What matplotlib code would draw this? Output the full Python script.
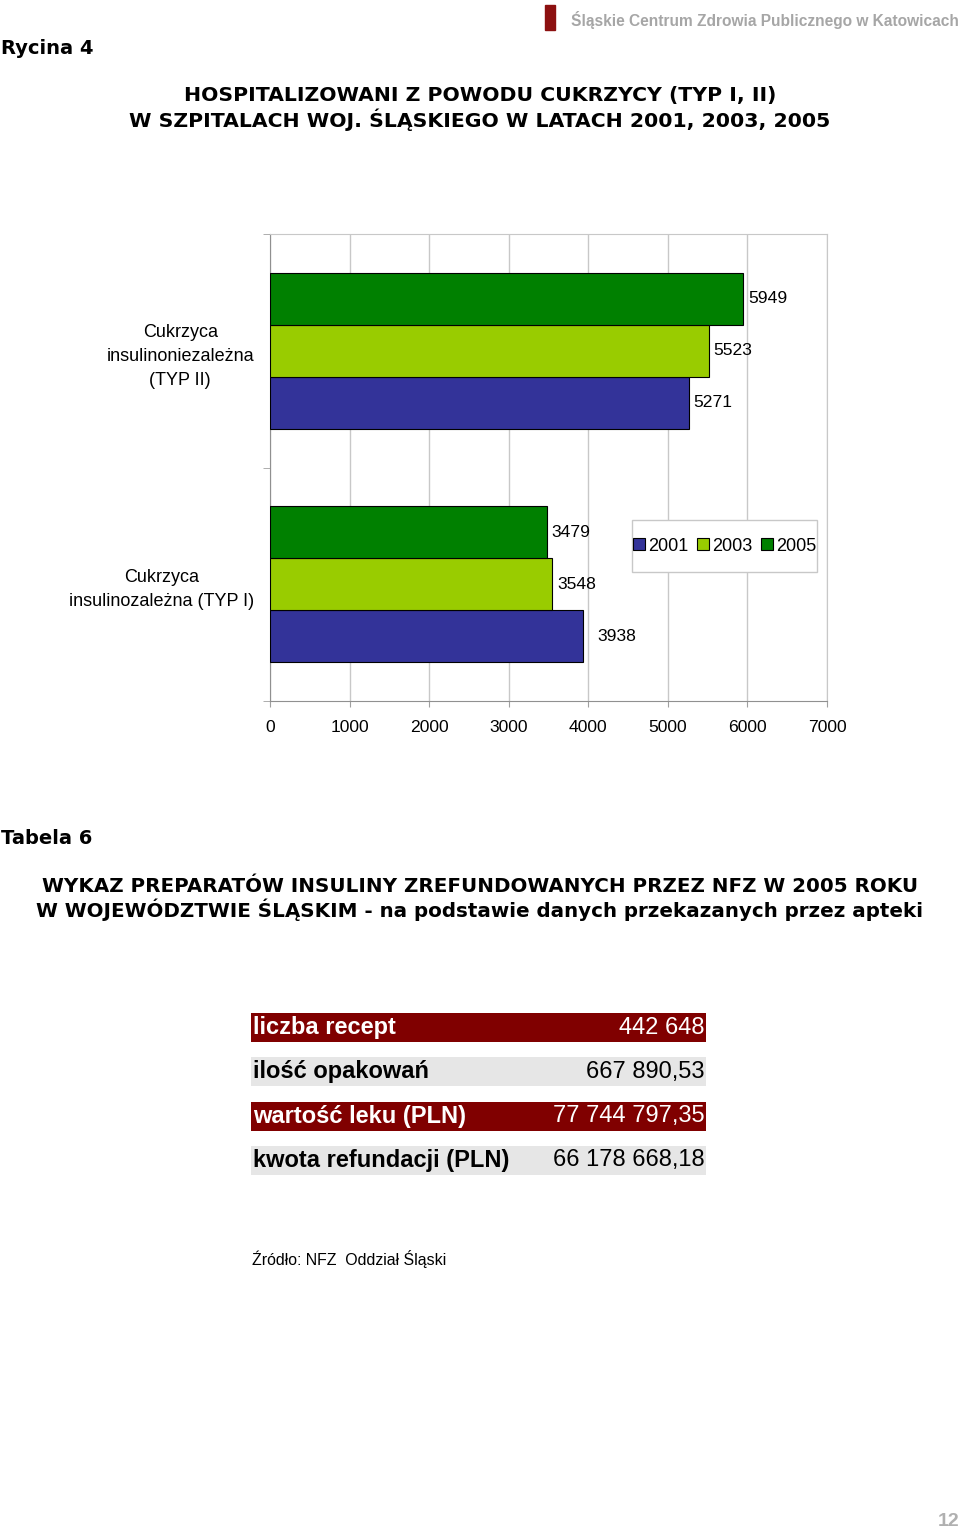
import matplotlib.pyplot as plt
from matplotlib.patches import Rectangle
import numpy as np

# chart data
categories = ["Cukrzyca\ninsulinoniezależna\n(TYP II)", "Cukrzyca\ninsulinozależna (TYP I)"]
years = ["2001", "2003", "2005"]
v2001 = [5271, 3938]
v2003 = [5523, 3548]
v2005 = [5949, 3479]
xticks = [0, 1000, 2000, 3000, 4000, 5000, 6000, 7000]

# table data
table_labels = ["liczba recept", "ilość opakowań", "wartość leku (PLN)", "kwota refundacji (PLN)"]
table_values = ["442 648", "667 890,53", "77 744 797,35", "66 178 668,18"]

W, H = 960, 1531
def fx(x):
    return x / W
def fy(y):
    return 1 - y / H

fig = plt.figure(figsize=(W / 100, H / 100), dpi=100)
fig.patch.set_facecolor("white")

sans = "Liberation Sans"
head = "DejaVu Sans"

# page header
fig.patches.append(Rectangle((fx(545), fy(30)), 10 / W, 25 / H, transform=fig.transFigure,
                             color="#8c1010"))
fig.text(fx(959), fy(20), "Śląskie Centrum Zdrowia Publicznego w Katowicach", ha="right", va="center",
         fontsize=11.2, fontweight="bold", color="#a6a6a6", family=sans)
fig.text(fx(1), fy(48), "Rycina 4", ha="left", va="center", fontsize=14, fontweight="bold", family=head)
fig.text(fx(480), fy(96), "HOSPITALIZOWANI Z POWODU CUKRZYCY (TYP I, II)", ha="center", va="center",
         fontsize=14.7, fontweight="bold", family=head)
fig.text(fx(480), fy(120), "W SZPITALACH WOJ. ŚLĄSKIEGO W LATACH 2001, 2003, 2005", ha="center", va="center",
         fontsize=14.7, fontweight="bold", family=head)

# bar chart
ax = fig.add_axes([fx(270), fy(701), (827 - 270) / W, (701 - 234) / H])
y = np.arange(len(categories))
h = 0.223
series = [(v2001, "2001", "#333399", h, [4, 14]),
          (v2003, "2003", "#99cc00", 0, [4, 5]),
          (v2005, "2005", "#008000", -h, [5, 5])]
handles = []
for vals, name, col, off, pads in series:
    b = ax.barh(y + off, vals, height=h, color=col, edgecolor="black", linewidth=0.8, label=name, zorder=3)
    handles.append(b)
    for rect, v, p in zip(b, vals, pads):
        ax.annotate(str(v), (rect.get_width(), rect.get_y() + rect.get_height() / 2),
                    xytext=(p * 0.72, 0), textcoords="offset points", ha="left", va="center",
                    fontsize=12.6, family=sans)

ax.set_xlim(0, 7000)
ax.set_ylim(1.5, -0.5)
ax.set_xticks(xticks)
ax.set_xticklabels([str(t) for t in xticks], fontsize=12.6, family=sans)
ax.set_yticks(y)
ax.set_yticklabels(categories, fontsize=13, family=sans, linespacing=1.55)
for lbl in ax.get_yticklabels():
    lbl.set_multialignment("center")
ax.set_yticks([-0.5, 0.5, 1.5], minor=True)
ax.tick_params(axis="y", which="major", length=0, pad=11.5)
ax.tick_params(axis="y", which="minor", length=5, color="#a0a0a0")
ax.tick_params(axis="x", length=4, color="#a0a0a0", pad=9.5)
ax.xaxis.grid(True, color="#c8c8c8", linewidth=1)
ax.set_axisbelow(True)
for s in ["left", "bottom"]:
    ax.spines[s].set_color("#909090")
for s in ["top", "right"]:
    ax.spines[s].set_color("#c8c8c8")

# legend box drawn separately so it can be wider than tall padding allows
ax.add_patch(Rectangle((0.650, 0.2762), 0.332, 0.1113, transform=ax.transAxes, facecolor="white",
                       edgecolor="#c8c8c8", linewidth=1, zorder=4))
leg = ax.legend(handles=handles, loc="center", bbox_to_anchor=(0.816, 0.3319), ncol=3, frameon=False,
                handlelength=0.65, handleheight=0.65, handletextpad=0.17, columnspacing=0.5,
                borderpad=0, borderaxespad=0, prop={"family": sans, "size": 13})
leg.set_zorder(5)

# table section
fig.text(fx(1), fy(839), "Tabela 6", ha="left", va="center", fontsize=14, fontweight="bold", family=head)
fig.text(fx(480), fy(886), "WYKAZ PREPARATÓW INSULINY ZREFUNDOWANYCH PRZEZ NFZ W 2005 ROKU", ha="center",
         va="center", fontsize=14.35, fontweight="bold", family=head)
fig.text(fx(480), fy(910), "W WOJEWÓDZTWIE ŚLĄSKIM - na podstawie danych przekazanych przez apteki",
         ha="center", va="center", fontsize=14.35, fontweight="bold", family=head)

tax = fig.add_axes([fx(251), fy(1175), (706 - 251) / W, (1175 - 1013) / H])
rows = np.arange(len(table_labels))
rh = 0.655
fills = ["#800000", "#e6e6e6"]
inks = ["white", "black"]
tax.barh(rows, 1, height=rh, align="edge", color=[fills[i % 2] for i in rows])
for i, (lab, val) in enumerate(zip(table_labels, table_values)):
    tax.text(0.005, i + rh / 2, lab, ha="left", va="center", fontsize=17, fontweight="bold",
             color=inks[i % 2], family=sans)
    tax.text(0.997, i + rh / 2, val, ha="right", va="center", fontsize=17, color=inks[i % 2], family=sans)
tax.set_xlim(0, 1)
tax.set_ylim(len(rows) - 1 + rh, 0)
tax.axis("off")

fig.text(fx(252), fy(1259), "Źródło: NFZ  Oddział Śląski", ha="left", va="center", fontsize=11.4, family=sans)
fig.text(fx(959), fy(1522), "12", ha="right", va="center", fontsize=14, fontweight="bold",
         color="#b0b0b0", family=sans)

fig.savefig("out.png", dpi=100)
